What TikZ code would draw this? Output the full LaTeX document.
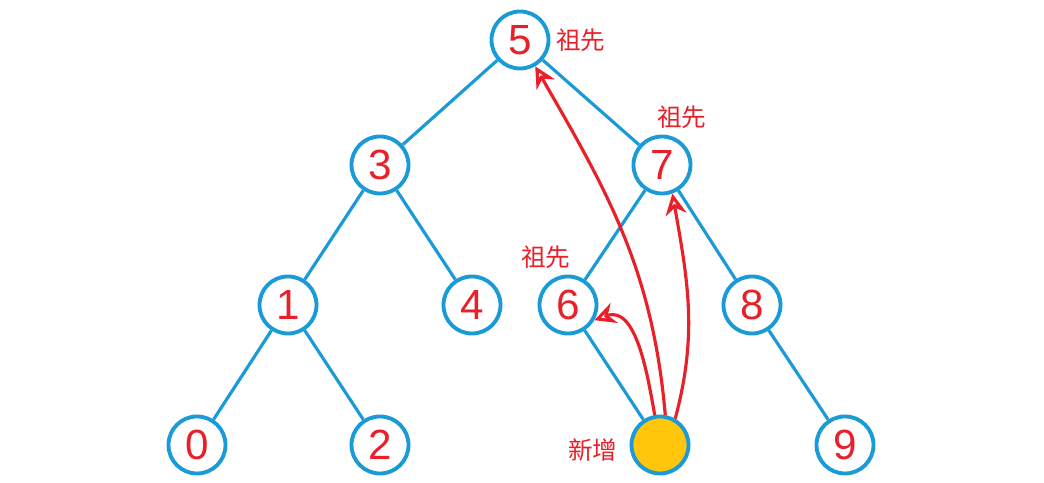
\documentclass[tikz,border=0pt]{standalone}
\usepackage{fontspec}
\setmainfont{Liberation Sans}
\newfontfamily\cjk{Noto Sans CJK SC}
\usetikzlibrary{arrows.meta}
\definecolor{treeblue}{HTML}{1A9AD6}
\definecolor{markred}{HTML}{E8202A}
\definecolor{newgold}{HTML}{FFC60B}
\begin{document}
\begin{tikzpicture}[x=0.01cm,y=-0.01cm]
        \tikzset{vertex/.style={circle, draw=treeblue, line width=1.1pt, fill=white, minimum size=0.57cm, inner sep=0pt, font=\large, text=markred}}
        \tikzset{edge/.style={treeblue, line width=0.9pt}}
        \tikzset{tag/.style={font=\cjk\fontsize{7}{8}\selectfont, text=markred, inner sep=0pt}}
        \tikzset{climb/.style={markred, line width=0.9pt, -{Stealth[open, length=6pt, width=6pt]}}}
        \useasboundingbox (0,0) rectangle (1044,483);

        \node[vertex] (n5) at (520,40)  {5};
        \node[vertex] (n3) at (380,165) {3};
        \node[vertex] (n7) at (662,165) {7};
        \node[vertex] (n1) at (288,305) {1};
        \node[vertex] (n4) at (472,305) {4};
        \node[vertex] (n6) at (568,305) {6};
        \node[vertex] (n8) at (752,305) {8};
        \node[vertex] (n0) at (197,445) {0};
        \node[vertex] (n2) at (380,445) {2};
        \node[vertex, fill=newgold] (nn) at (660,445) {};
        \node[vertex] (n9) at (845,445) {9};

        \node[tag] (t5) at (581,40)  {祖先};
        \node[tag] (t7) at (682,117) {祖先};
        \node[tag] (t6) at (546,257) {祖先};
        \node[tag] (tn) at (593,450) {新增};

        \draw[edge] (n5) -- (n3);
        \draw[edge] (n5) -- (n7);
        \draw[edge] (n3) -- (n1);
        \draw[edge] (n3) -- (n4);
        \draw[edge] (n1) -- (n0);
        \draw[edge] (n1) -- (n2);
        \draw[edge] (n7) -- (n6);
        \draw[edge] (n7) -- (n8);
        \draw[edge] (n6) -- (nn);
        \draw[edge] (n8) -- (n9);

        \draw[climb] (nn.100) to[out=100, in=20] (n6.-30);
        \draw[climb] (nn.80) to[out=95, in=-60] (n5.-60);
        \draw[climb] (nn.60) to[out=75, in=-80] (n7.-70);
    \end{tikzpicture}
\end{document}
